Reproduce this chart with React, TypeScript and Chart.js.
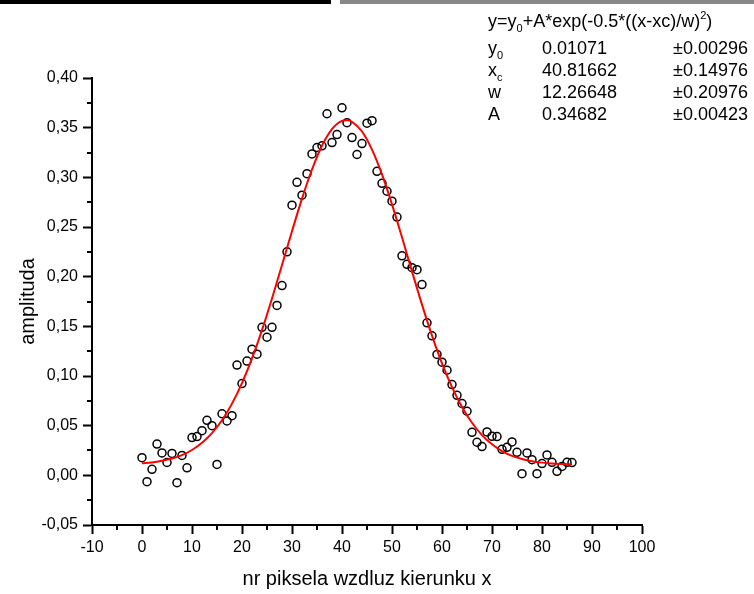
import React, { useEffect, useRef } from 'react';
import { Chart, registerables } from 'chart.js';

Chart.register(...registerables);

// Measured data points (x = pixel index, y = amplitude)
const pointX = [
  0, 1, 2, 3, 4, 5, 6, 7, 8, 9, 10, 11, 12, 13, 14, 15, 16, 17, 18, 19, 20, 21,
  22, 23, 24, 25, 26, 27, 28, 29, 30, 31, 32, 33, 34, 35, 36, 37, 38, 39, 40, 41,
  42, 43, 44, 45, 46, 47, 48, 49, 50, 51, 52, 53, 54, 55, 56, 57, 58, 59, 60, 61,
  62, 63, 64, 65, 66, 67, 68, 69, 70, 71, 72, 73, 74, 75, 76, 77, 78, 79, 80, 81,
  82, 83, 84, 85, 86,
];
const pointY = [
  0.0178, -0.0064, 0.006, 0.0315, 0.0225, 0.013, 0.022, -0.0074, 0.02, 0.0076,
  0.038, 0.039, 0.045, 0.0554, 0.05, 0.011, 0.062, 0.0547, 0.06, 0.111,
  0.0924, 0.115, 0.127, 0.122, 0.149, 0.139, 0.149, 0.171, 0.191, 0.225,
  0.272, 0.295, 0.282, 0.3037, 0.3236, 0.33, 0.3317, 0.364, 0.335, 0.343,
  0.37, 0.355, 0.34, 0.323, 0.334, 0.3545, 0.357, 0.306, 0.294, 0.286,
  0.276, 0.26, 0.221, 0.2124, 0.209, 0.207, 0.192, 0.1535, 0.1404, 0.1217,
  0.1139, 0.1058, 0.0914, 0.0806, 0.0723, 0.0645, 0.0433, 0.0333, 0.029, 0.0437,
  0.0393, 0.039, 0.0262, 0.0282, 0.0336, 0.0232, 0.0017, 0.0225, 0.0158, 0.0017,
  0.0118, 0.0205, 0.0131, 0.004, 0.009, 0.0131, 0.0128,
];

// Fitted Gaussian curve
const fitX = [
  0, 2, 4, 6, 8, 10, 12, 14, 16, 18, 20, 22, 24, 26, 28, 30, 32, 34, 36, 38, 40,
  41, 42, 44, 46, 48, 50, 52, 54, 56, 58, 60, 62, 64, 66, 68, 70, 72, 74, 76, 78,
  80, 82, 84, 86,
];
const fitY = [
  0.0121, 0.013, 0.0146, 0.0169, 0.0204, 0.0255, 0.0327, 0.0425, 0.0555, 0.0722,
  0.0929, 0.1177, 0.1462, 0.178, 0.2117, 0.2458, 0.2786, 0.3079, 0.3318, 0.3485,
  0.3568, 0.3575, 0.3559, 0.3461, 0.3279, 0.3029, 0.2728, 0.2396, 0.2053, 0.1719,
  0.1407, 0.1128, 0.0888, 0.0688, 0.0529, 0.0405, 0.0312, 0.0244, 0.0196, 0.0164,
  0.0142, 0.0128, 0.0119, 0.0114, 0.0111,
];

const xMinorTicks = [-5, 5, 15, 25, 35, 45, 55, 65, 75, 85, 95];
const yMinorTicks = [-0.025, 0.025, 0.075, 0.125, 0.175, 0.225, 0.275, 0.325, 0.375];

const xTitle = 'nr piksela wzdluz kierunku x';
const yTitle = 'amplituda';

const paramNames = ['y', 'x', 'w', 'A'];
const paramSubs = ['0', 'c', '', ''];
const paramValues = ['0.01071', '40.81662', '12.26648', '0.34682'];
const paramErrors = ['±0.00296', '±0.14976', '±0.20976', '±0.00423'];

const FONT = '"Liberation Sans", Arial, Helvetica, sans-serif';

type Part = [string, 'n' | 'sub' | 'sup'];

function drawRich(ctx: CanvasRenderingContext2D, x: number, y: number, parts: Part[], size: number) {
  let cx = x;
  for (const [t, kind] of parts) {
    const s = kind === 'n' ? size : Math.round(size * 0.62);
    ctx.font = `${s}px ${FONT}`;
    const dy = kind === 'sub' ? 5 : kind === 'sup' ? -8 : 0;
    ctx.fillText(t, cx, y + dy);
    cx += ctx.measureText(t).width;
  }
}

const extrasPlugin = {
  id: 'extras',
  afterDraw(chart: any) {
    const ctx: CanvasRenderingContext2D = chart.ctx;
    const xs = chart.scales.x;
    const ys = chart.scales.y;
    const { left, bottom } = chart.chartArea;
    ctx.save();
    ctx.strokeStyle = '#000';
    ctx.lineWidth = 2;
    for (const v of xMinorTicks) {
      const p = Math.round(xs.getPixelForValue(v));
      ctx.beginPath();
      ctx.moveTo(p, bottom);
      ctx.lineTo(p, bottom + 5);
      ctx.stroke();
    }
    for (const v of yMinorTicks) {
      const p = Math.round(ys.getPixelForValue(v));
      ctx.beginPath();
      ctx.moveTo(left, p);
      ctx.lineTo(left - 5, p);
      ctx.stroke();
    }

    // Fit parameter box
    ctx.fillStyle = '#000';
    ctx.textBaseline = 'alphabetic';
    ctx.textAlign = 'left';
    const size = 18;
    drawRich(
      ctx,
      488,
      27,
      [
        ['y=y', 'n'],
        ['0', 'sub'],
        ['+A*exp(-0.5*((x-xc)/w)', 'n'],
        ['2', 'sup'],
        [')', 'n'],
      ],
      size
    );
    const baselines = [54, 76, 98, 120];
    for (let i = 0; i < paramNames.length; i++) {
      const parts: Part[] = [[paramNames[i], 'n']];
      if (paramSubs[i]) parts.push([paramSubs[i], 'sub']);
      drawRich(ctx, 488, baselines[i], parts, size);
      ctx.font = `${size}px ${FONT}`;
      ctx.fillText(paramValues[i], 542, baselines[i]);
      ctx.fillText(paramErrors[i], 673, baselines[i]);
    }
    ctx.restore();
  },
};

export default function App() {
  const ref = useRef<HTMLCanvasElement | null>(null);

  useEffect(() => {
    if (!ref.current) return;
    Chart.defaults.font.family = FONT;
    Chart.defaults.color = '#000';
    const chart = new Chart(ref.current, {
      type: 'scatter',
      data: {
        datasets: [
          {
            label: 'data',
            data: pointX.map((x, i) => ({ x, y: pointY[i] })),
            pointRadius: 4,
            pointBorderWidth: 1.5,
            borderColor: '#000',
            backgroundColor: 'rgba(0,0,0,0)',
            pointHoverRadius: 4,
            order: 2,
          },
          {
            label: 'fit',
            data: fitX.map((x, i) => ({ x, y: fitY[i] })),
            showLine: true,
            pointRadius: 0,
            borderColor: '#ff0000',
            borderWidth: 2,
            cubicInterpolationMode: 'monotone',
            order: 1,
          } as any,
        ],
      },
      options: {
        animation: false,
        responsive: false,
        events: [],
        layout: { padding: { top: 78, right: 112, left: 0, bottom: 0 } },
        plugins: {
          legend: { display: false },
          tooltip: { enabled: false },
        },
        scales: {
          x: {
            type: 'linear',
            min: -10,
            max: 100,
            ticks: {
              stepSize: 10,
              font: { size: 16 },
              color: '#000',
              padding: 4,
            },
            grid: {
              drawOnChartArea: false,
              drawTicks: true,
              tickLength: 9,
              tickColor: '#000',
              tickWidth: 2,
            },
            border: { display: true, color: '#000', width: 2 },
            title: {
              display: true,
              text: xTitle,
              font: { size: 20 },
              color: '#000',
              padding: { top: 0, bottom: 3 },
            },
            afterFit: (s: any) => {
              s.height = 69;
            },
          },
          y: {
            type: 'linear',
            min: -0.05,
            max: 0.4,
            ticks: {
              stepSize: 0.05,
              font: { size: 16 },
              color: '#000',
              padding: 5,
              callback: (v: any) => Number(v).toFixed(2).replace('.', ','),
            },
            grid: {
              drawOnChartArea: false,
              drawTicks: true,
              tickLength: 9,
              tickColor: '#000',
              tickWidth: 2,
            },
            border: { display: true, color: '#000', width: 2 },
            title: {
              display: true,
              text: yTitle,
              font: { size: 20 },
              color: '#000',
              padding: { top: 16, bottom: 0 },
            },
            afterFit: (s: any) => {
              s.width = 92;
            },
          },
        },
      },
      plugins: [extrasPlugin],
    });
    return () => chart.destroy();
  }, []);

  return (
    <div style={{ position: 'fixed', left: 0, top: 0, width: 754, height: 594, background: '#fff' }}>
      <div style={{ position: 'absolute', left: 0, top: 0, width: 331, height: 4, background: '#000' }} />
      <div style={{ position: 'absolute', left: 340, top: 0, width: 414, height: 4, background: '#888' }} />
      <canvas ref={ref} width={754} height={594} style={{ position: 'absolute', left: 0, top: 0 }} />
    </div>
  );
}
